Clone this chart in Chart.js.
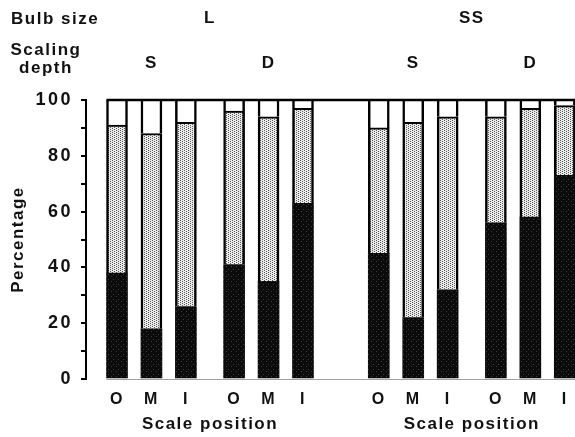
<!DOCTYPE html>
<html>
<head>
<meta charset="utf-8">
<script src="https://cdn.jsdelivr.net/npm/chart.js@4.4.1/dist/chart.umd.min.js"></script>
<style>
  html, body { margin: 0; padding: 0; background: #fff; overflow: hidden; }
  #wrap { position: relative; width: 575px; height: 437px; overflow: hidden; }
  canvas { position: absolute; left: 0; top: 0; }
  .hdr { position: absolute; font: bold 17px "Liberation Sans", Arial, sans-serif; letter-spacing: 1.5px;
         color: #111; line-height: 18px; white-space: nowrap; }
</style>
</head>
<body>
<div id="wrap">
  <canvas id="chart" width="582" height="437"></canvas>
  <div class="hdr" style="left:11px; top:10px;">Bulb size</div>
  <div class="hdr" style="left:9px; top:41px; width:74px; text-align:center;">Scaling<br>depth</div>
</div>
<script>
// bars in order L-S, L-D, SS-S, SS-D, each with scale positions O, M, I (percent)
const bulbSizes = ['L', 'SS'];
const scalingDepths = ['S', 'D'];
const scalePositions = ['O', 'M', 'I'];
const darkPart = [38, 18, 26, 41, 35, 63, 45, 22, 32, 56, 58, 73];
const dottedPart = [53, 70, 66, 55, 59, 34, 45, 70, 62, 38, 39, 25];
const whitePart = [9, 12, 8, 4, 6, 3, 10, 8, 6, 6, 3, 2];
const yTicks = [0, 20, 40, 60, 80, 100];

const FONT = '"Liberation Sans", Arial, sans-serif';
const BAR_WIDTH = 21;

// bars are spaced unevenly in the figure, so they sit on a fine grid of slots
const LEAD = 4, STEP = 5, DEPTH_GAP = 7, BULB_GAP = 11, TOTAL_SLOTS = 72;
const slots = [];
let s = LEAD;
for (let b = 0; b < bulbSizes.length; b++) {
    for (let d = 0; d < scalingDepths.length; d++) {
        for (let p = 0; p < scalePositions.length; p++) {
            slots.push(s);
            s += STEP;
        }
        s += (d === scalingDepths.length - 1 ? BULB_GAP : DEPTH_GAP) - STEP;
    }
}

const labels = new Array(TOTAL_SLOTS).fill('');
slots.forEach((slot, i) => { labels[slot] = scalePositions[i % scalePositions.length]; });

function spread(values) {
    const out = new Array(TOTAL_SLOTS).fill(null);
    slots.forEach((slot, i) => { out[slot] = values[i]; });
    return out;
}

// label positions: depth over the M bar, bulb size between its two depth groups
const depthCenters = [];
const depthNames = [];
for (let g = 0; g < bulbSizes.length * scalingDepths.length; g++) {
    depthCenters.push(slots[g * 3 + 1]);
    depthNames.push(scalingDepths[g % scalingDepths.length]);
}
const bulbCenters = bulbSizes.map((b, i) => (slots[i * 6 + 2] + slots[i * 6 + 3]) / 2);

const ctx = document.getElementById('chart').getContext('2d');

function stipple(base, dot, w, h, dots) {
    const c = document.createElement('canvas');
    c.width = w;
    c.height = h;
    const g = c.getContext('2d');
    g.fillStyle = base;
    g.fillRect(0, 0, w, h);
    g.fillStyle = dot;
    dots.forEach(([x, y]) => g.fillRect(x, y, 1, 1));
    return ctx.createPattern(c, 'repeat');
}

// halftone-like screen for the middle band, faint speckle for the dark band
const dottedFill = stipple('#eaeaea', '#5a5a5a', 4, 2, [[0, 0], [2, 1]]);
const darkFill = stipple('#0b0b0b', '#3c3c3c', 5, 5, [[1, 1], [3, 4]]);

const framePlugin = {
    id: 'frame',
    beforeDraw(chart) {
        chart.ctx.letterSpacing = '1.5px';
    },
    afterDatasetsDraw(chart) {
        const { ctx, chartArea, scales } = chart;
        const left = scales.x.getPixelForValue(slots[0]) - BAR_WIDTH / 2;
        const top = scales.y.getPixelForValue(100);
        const bottom = scales.y.getPixelForValue(0);
        ctx.save();
        ctx.strokeStyle = '#000';
        ctx.lineWidth = 2.5;
        ctx.beginPath();
        ctx.moveTo(left, top);
        ctx.lineTo(chartArea.right, top);
        ctx.stroke();
        ctx.strokeStyle = '#a0a0a0';
        ctx.lineWidth = 1;
        ctx.beginPath();
        ctx.moveTo(left, bottom + 0.5);
        ctx.lineTo(chartArea.right, bottom + 0.5);
        ctx.stroke();
        ctx.restore();
        // y tick labels (ticks.z = 1) are drawn after this, widely spaced
        ctx.letterSpacing = '2.5px';
    },
    afterDraw(chart) {
        chart.ctx.letterSpacing = '0px';
    }
};

const barCommon = {
    barThickness: BAR_WIDTH,
    borderColor: '#000',
    borderSkipped: false
};

const labelAxis = (position, centers, names, height, padding, weight) => ({
    type: 'linear',
    position: position,
    weight: weight,
    offset: false,
    min: -0.5,
    max: TOTAL_SLOTS - 0.5,
    afterBuildTicks(scale) { scale.ticks = centers.map(v => ({ value: v })); },
    afterFit(scale) {
        scale.height = height;
        scale.paddingLeft = 0;
        scale.paddingRight = 0;
    },
    ticks: {
        autoSkip: false, maxRotation: 0, padding: padding, color: '#111',
        font: { family: FONT, size: 17, weight: 'bold' },
        callback: (v, i) => names[i]
    },
    grid: { display: false, drawTicks: false },
    border: { display: false }
});

new Chart(ctx, {
    type: 'bar',
    data: {
        labels: labels,
        datasets: [
            { ...barCommon, label: 'dark', data: spread(darkPart), backgroundColor: darkFill, borderWidth: 0 },
            { ...barCommon, label: 'dotted', data: spread(dottedPart), backgroundColor: dottedFill,
              borderWidth: { left: 2.5, right: 2.5, top: 2, bottom: 0 } },
            { ...barCommon, label: 'white', data: spread(whitePart), backgroundColor: '#fff',
              borderWidth: { left: 2.5, right: 2.5, top: 0, bottom: 0 } }
        ]
    },
    options: {
        responsive: false,
        devicePixelRatio: 1,
        animation: false,
        events: [],
        layout: { padding: 0 },
        plugins: { legend: { display: false }, tooltip: { enabled: false } },
        scales: {
            x: {
                stacked: true,
                offset: true,
                afterFit(scale) {
                    scale.height = 30;
                    scale.paddingLeft = 0;
                    scale.paddingRight = 0;
                },
                ticks: {
                    autoSkip: false, maxRotation: 0, padding: 11, color: '#111',
                    font: { family: FONT, size: 16, weight: 'bold' }
                },
                grid: { display: false, drawTicks: false },
                border: { display: false }
            },
            pos: labelAxis('bottom', bulbCenters, bulbSizes.map(() => 'Scale position'), 28, 5, 1),
            depth: labelAxis('top', depthCenters, depthNames, 62, 26, 1),
            bulb: labelAxis('top', bulbCenters, bulbSizes, 38, 9, 2),
            y: {
                stacked: true,
                min: 0,
                max: 100,
                afterFit(scale) { scale.width = 86; },
                ticks: {
                    stepSize: 10, autoSkip: false, padding: 8, z: 1, color: '#111',
                    font: { family: FONT, size: 18, weight: 'bold' },
                    callback: v => (yTicks.includes(v) ? String(v) : '')
                },
                grid: { drawOnChartArea: false, drawTicks: true, tickLength: 5, color: '#000', lineWidth: 2 },
                border: { display: true, color: '#000', width: 2 },
                title: {
                    display: true, text: 'Percentage', color: '#111',
                    font: { family: FONT, size: 17, weight: 'bold' },
                    padding: { top: 8, bottom: 0 }
                }
            }
        }
    },
    plugins: [framePlugin]
});
</script>
</body>
</html>
